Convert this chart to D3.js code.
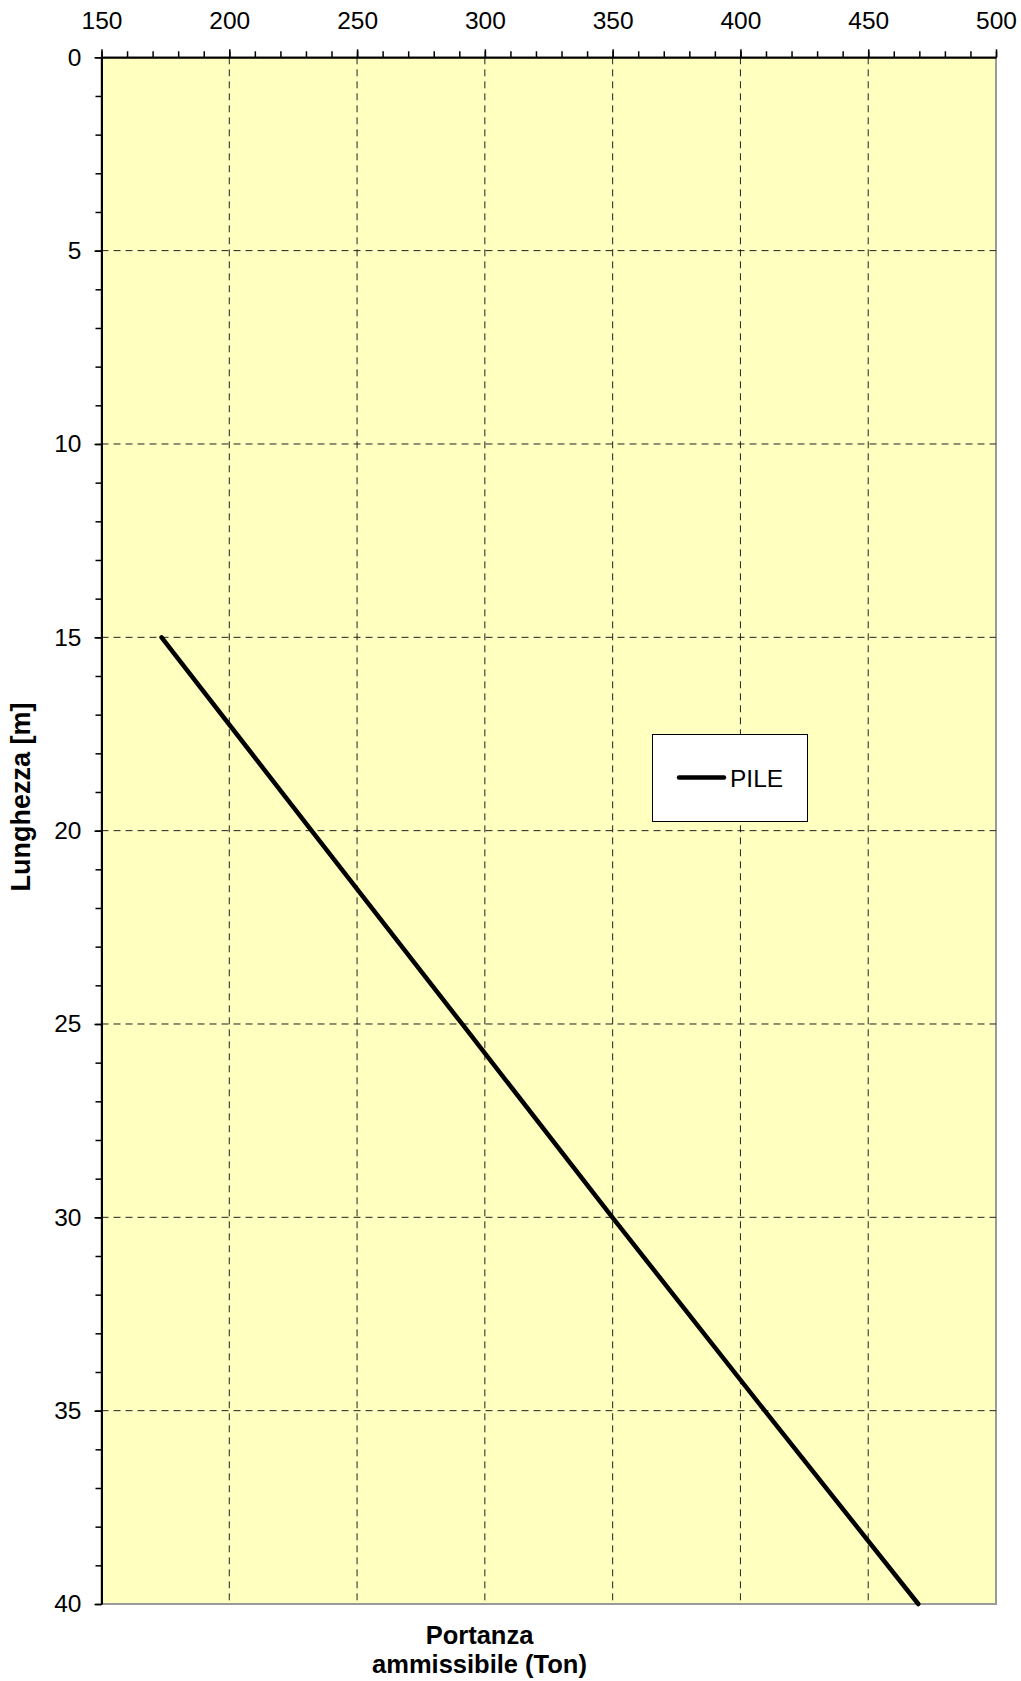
<!DOCTYPE html>
<html>
<head>
<meta charset="utf-8">
<script src="https://cdn.jsdelivr.net/npm/d3@7"></script>
<style>
  html, body { margin: 0; padding: 0; background: #ffffff; }
  svg { display: block; }
  text { font-family: "Liberation Sans", Arial, sans-serif; fill: #000; }
</style>
</head>
<body>
<svg id="chart" width="1021" height="1681"></svg>
<script>
// ---- data ----
const seriesName = "PILE";
const depths = [15, 20, 25, 30, 35, 40];                    // Lunghezza [m]
const capacity = [173.5, 232.2, 291.1, 349.9, 409.5, 469.6]; // Portanza ammissibile (Ton)
const xMajorTicks = [150, 200, 250, 300, 350, 400, 450, 500];
const yMajorTicks = [0, 5, 10, 15, 20, 25, 30, 35, 40];
const xTitleLines = ["Portanza", "ammissibile (Ton)"];
const yTitle = "Lunghezza [m]";

// ---- layout ----
const pL = 101.5, pR = 996, pT = 57.3, pB = 1604;
const svg = d3.select("#chart");
const x = d3.scaleLinear().domain([150, 500]).range([pL, pR]);
const y = d3.scaleLinear().domain([0, 40]).range([pT, pB]);

// plot background with grey border
svg.append("rect")
  .attr("x", pL).attr("y", pT)
  .attr("width", pR - pL).attr("height", pB - pT)
  .attr("fill", "#FFFFC0")
  .attr("stroke", "#9a9a9a").attr("stroke-width", 2);

// grid lines
const grid = svg.append("g").attr("stroke", "#222").attr("stroke-width", 1)
  .attr("stroke-dasharray", "7,5").attr("fill", "none");
grid.selectAll("line.v").data(xMajorTicks.slice(1, -1)).join("line").attr("class", "v")
  .attr("x1", d => x(d)).attr("x2", d => x(d))
  .attr("y1", pT).attr("y2", pB);
grid.selectAll("line.h").data(yMajorTicks.slice(1, -1)).join("line").attr("class", "h")
  .attr("x1", pL).attr("x2", pR)
  .attr("y1", d => y(d)).attr("y2", d => y(d));

// minor ticks
const xMinor = d3.range(150, 501, 10);
const yMinor = d3.range(0, 41, 1);

const fontSize = 24.5;

// top axis (minor)
svg.append("g").attr("transform", `translate(0,${pT})`)
  .call(d3.axisTop(x).tickValues(xMinor).tickSize(6).tickFormat(""))
  .call(g => g.select(".domain").remove())
  .call(g => g.selectAll("line").attr("stroke", "#000").attr("stroke-width", 1.5));
// top axis (major)
const gx = svg.append("g").attr("transform", `translate(0,${pT})`)
  .call(d3.axisTop(x).tickValues(xMajorTicks).tickSize(8).tickSizeOuter(0).tickPadding(20).tickFormat(d3.format("d")));
gx.select(".domain").attr("stroke", "#000").attr("stroke-width", 2);
gx.selectAll("line").attr("stroke", "#000").attr("stroke-width", 1.5);
gx.selectAll("text").attr("font-size", fontSize)
  .attr("font-family", "Liberation Sans, Arial, sans-serif").attr("fill", "#000");

// left axis (minor)
svg.append("g").attr("transform", `translate(${pL},0)`)
  .call(d3.axisLeft(y).tickValues(yMinor).tickSize(6).tickFormat(""))
  .call(g => g.select(".domain").remove())
  .call(g => g.selectAll("line").attr("stroke", "#000").attr("stroke-width", 1.5));
// left axis (major)
const gy = svg.append("g").attr("transform", `translate(${pL},0)`)
  .call(d3.axisLeft(y).tickValues(yMajorTicks).tickSize(7).tickSizeOuter(0).tickPadding(13).tickFormat(d3.format("d")));
gy.select(".domain").attr("stroke", "#000").attr("stroke-width", 2);
gy.selectAll("line").attr("stroke", "#000").attr("stroke-width", 1.5);
gy.selectAll("text").attr("font-size", fontSize)
  .attr("font-family", "Liberation Sans, Arial, sans-serif").attr("fill", "#000");

// data line
const pts = depths.map((d, i) => [capacity[i], d]);
svg.append("path")
  .datum(pts)
  .attr("fill", "none")
  .attr("stroke", "#000")
  .attr("stroke-width", 4.5)
  .attr("stroke-linecap", "round")
  .attr("d", d3.line().x(d => x(d[0])).y(d => y(d[1])));

// legend
const lg = svg.append("g");
lg.append("rect").attr("x", 652.5).attr("y", 734.5).attr("width", 155).attr("height", 87)
  .attr("fill", "#fff").attr("stroke", "#000").attr("stroke-width", 1);
lg.append("line").attr("x1", 679).attr("x2", 724).attr("y1", 777.5).attr("y2", 777.5)
  .attr("stroke", "#000").attr("stroke-width", 4.5).attr("stroke-linecap", "round");
lg.append("text").attr("x", 730).attr("y", 786.5).attr("font-size", fontSize).text(seriesName);

// axis titles
const xt = svg.append("text").attr("text-anchor", "middle")
  .attr("font-size", 25.5).attr("font-weight", "bold");
xTitleLines.forEach((t, i) => {
  xt.append("tspan").attr("x", 479.5).attr("y", 1644 + i * 29).text(t);
});
svg.append("text")
  .attr("transform", `translate(30,797) rotate(-90)`)
  .attr("text-anchor", "middle")
  .attr("font-size", 27).attr("font-weight", "bold")
  .text(yTitle);
</script>
</body>
</html>
